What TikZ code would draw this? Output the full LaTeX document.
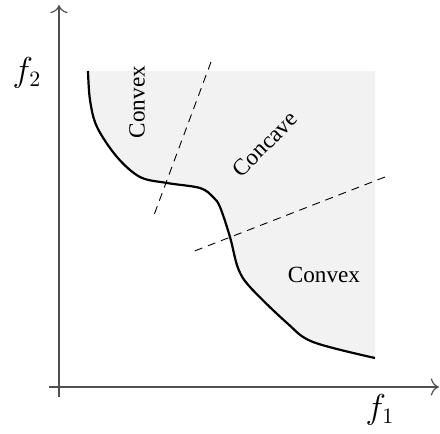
\documentclass[tikz,border=0pt]{standalone}
\usepackage{amsmath}
\usepackage{fontspec}
\setmainfont{Liberation Serif}
\usepackage{tikz}
\usetikzlibrary{arrows.meta,positioning,calc}
\definecolor{regiongray}{RGB}{242,242,242}
\definecolor{axisgray}{RGB}{80,80,80}
\newcommand{\frontpts}{(88,71) (90,100) (97,127) (117,157) (140,177) (167,183)
  (200,188) (213,197) (220,207) (230,237) (238,268) (250,287) (287,323)
  (313,342) (375,358)}

\begin{document}
\begin{tikzpicture}[x=0.5pt,y=-0.5pt,>={To[scale=1.4]},
    axisline/.style={axisgray,line width=0.6pt},
    frontline/.style={black,line width=1.1pt},
    splitline/.style={black,line width=0.45pt,dash pattern=on 4pt off 3pt},
    regionlab/.style={font=\fontsize{11.6}{13}\selectfont,inner sep=0pt}]
\useasboundingbox (0,0) rectangle (440,434);
% ================= axes =================
\coordinate (ybot) at (59,397);
\coordinate (ytop) at (59,5);
\coordinate (xleft) at (49,387);
\coordinate (xright) at (439,387);
\draw[axisline,->] (ybot)--(ytop);
\draw[axisline,->] (xleft)--(xright);
\node[font=\fontsize{16}{18}\selectfont] (f2lab) at (27,73) {$f_2$};
\node[font=\fontsize{16}{18}\selectfont] (f1lab) at (380,410) {$f_1$};
% ================= shaded region and front =================
\fill[regiongray] plot[smooth,tension=0.55] coordinates {\frontpts}
  -- (375,71) -- cycle;
\draw[frontline] plot[smooth,tension=0.55] coordinates {\frontpts};
% dashed separators
\coordinate (s1a) at (211,62);
\coordinate (s1b) at (154,215);
\coordinate (s2a) at (385,177);
\coordinate (s2b) at (192,252);
\draw[splitline] (s1a)--(s1b);
\draw[splitline] (s2a)--(s2b);
% region labels
\node[regionlab,rotate=90] (cvxtop) at (137,102) {Convex};
\node[regionlab,rotate=45] (ccv) at (265,144) {Concave};
\node[regionlab] (cvxbot) at (324,275) {Convex};
\end{tikzpicture}
\end{document}
